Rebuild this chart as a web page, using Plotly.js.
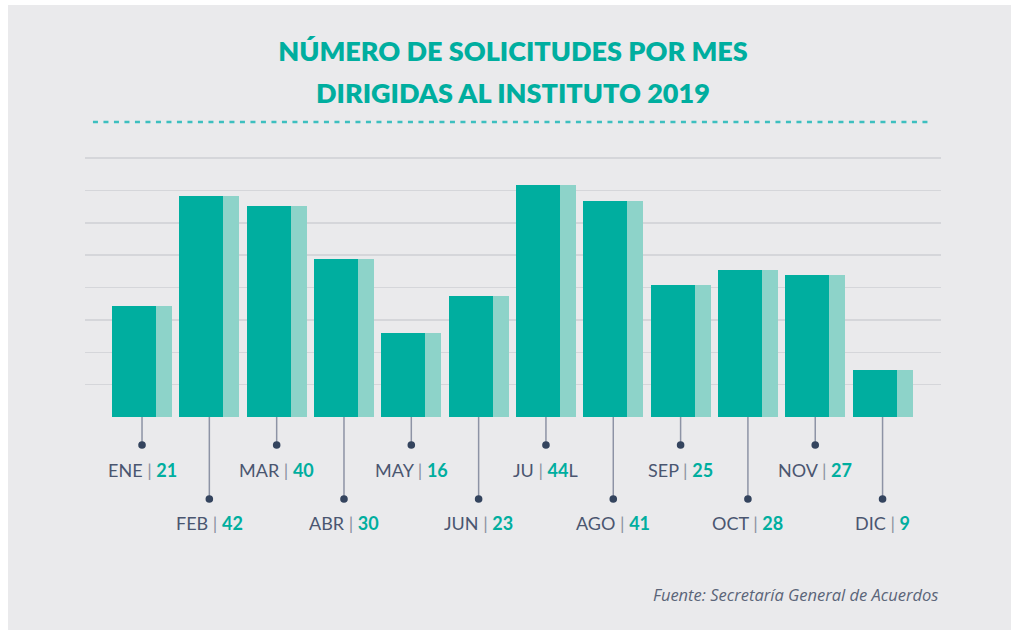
<!DOCTYPE html>
<html>
<head>
<meta charset="utf-8">
<script src="https://cdn.plot.ly/plotly-3.0.1.min.js"></script>
<style>
html,body{margin:0;padding:0;background:#ffffff;}
#chart{position:absolute;left:8px;top:5px;width:1003px;height:625px;}
</style>
</head>
<body>
<div id="chart"></div>
<script>
// Data
const months = ['ENE','FEB','MAR','ABR','MAY','JUN','JUL','AGO','SEP','OCT','NOV','DIC'];
const monthLabels = ['ENE','FEB','MAR','ABR','MAY','JUN','JU','AGO','SEP','OCT','NOV','DIC'];
const labelSuffix = ['','','','','','','L','','','','',''];
const solicitudes = [21, 42, 40, 30, 16, 23, 44, 41, 25, 28, 27, 9];
const titleLines = ['NÚMERO DE SOLICITUDES POR MES', 'DIRIGIDAS AL INSTITUTO 2019'];
const sourceText = 'Fuente: Secretaría General de Acuerdos';

const TEAL = '#00ae9f';
const TEAL_LIGHT = '#8dd3c9';
const SLATE = '#4a5670';
const FONT = 'Lato, "Open Sans", sans-serif';

const traces = [
  {type:'bar', x:months, y:solicitudes, marker:{color:TEAL_LIGHT, line:{width:0}},
   width:0.891, offset:-0.4455, hoverinfo:'skip', showlegend:false},
  {type:'bar', x:months, y:solicitudes, marker:{color:TEAL, line:{width:0}},
   width:0.654, offset:-0.4455, hoverinfo:'skip', showlegend:false}
];

const shapes = [];
const annotations = [];
const yOdd = -0.1041, yEven = -0.3048;
const labOdd = -0.197, labEven = -0.394;
months.forEach((m, i) => {
  const low = i % 2 === 1;
  const yd = low ? yEven : yOdd;
  shapes.push({type:'line', xref:'x', yref:'paper', x0:m, x1:m, y0:0, y1:yd,
    line:{color:'#8d93a5', width:1.5}, layer:'above'});
  shapes.push({type:'circle', xref:'x', yref:'paper', xsizemode:'pixel', ysizemode:'pixel',
    xanchor:m, yanchor:yd, x0:-3.8, x1:3.8, y0:-3.8, y1:3.8,
    fillcolor:'#34445e', line:{width:0}, layer:'above'});
  annotations.push({xref:'x', yref:'paper', x:m, y: low ? labEven : labOdd,
    xanchor:'center', yanchor:'middle', showarrow:false,
    text: monthLabels[i] + ' <span style="color:#8a90a0">|</span> <b><span style="color:' + TEAL + '">' + solicitudes[i] + '</span></b>' + labelSuffix[i],
    font:{family:FONT, size:18, color:SLATE}});
});

// dashed separator under title
shapes.push({type:'line', xref:'paper', yref:'paper', x0:0.0093, x1:0.987, y0:1.0967, y1:1.0967,
  line:{color:'#3dbfbf', width:2.5, dash:'5px,5.5px'}});

// second title line
annotations.push({xref:'paper', yref:'paper', x:0.5, y:1.208, xanchor:'center', yanchor:'middle',
  showarrow:false, text:titleLines[1], font:{family:FONT, size:27, color:TEAL, weight:800}});

annotations.push({xref:'paper', yref:'paper', x:0.9988, y:-0.658, xanchor:'right', yanchor:'middle',
  showarrow:false, text:'<i>' + sourceText + '</i>', font:{family:'"Open Sans", sans-serif', size:16.5, color:'#5b6579'}});

const layout = {
  width:1003, height:625,
  margin:{l:77, r:70, t:143, b:213, pad:0},
  paper_bgcolor:'#eaeaec', plot_bgcolor:'#eaeaec',
  barmode:'overlay', bargap:0,
  title:{text:titleLines[0], x:0.5, xref:'paper', y:0.9248, yref:'container',
    yanchor:'middle', xanchor:'center',
    font:{family:FONT, size:27, color:TEAL, weight:800}},
  xaxis:{type:'category', range:[-0.847, 11.868], showticklabels:false, showgrid:false,
    zeroline:false, showline:false, ticks:'', fixedrange:true},
  yaxis:{range:[0, 51.1], tick0:0, dtick:6.15, showticklabels:false, showgrid:true,
    gridcolor:'#d5d6da', gridwidth:1.5, zeroline:false, showline:false, ticks:'', fixedrange:true},
  shapes:shapes, annotations:annotations
};

Plotly.newPlot('chart', traces, layout, {displayModeBar:false, staticPlot:true});
</script>
</body>
</html>
